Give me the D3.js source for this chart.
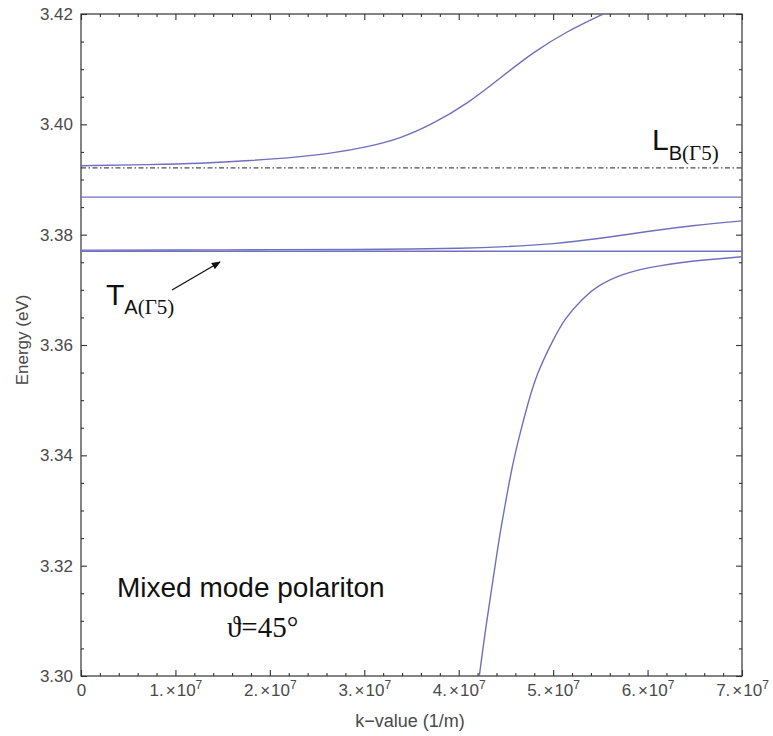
<!DOCTYPE html>
<html>
<head>
<meta charset="utf-8">
<script src="https://cdn.jsdelivr.net/npm/d3@7"></script>
<style>
body { margin: 0; background: #fff; }
</style>
</head>
<body>
<svg width="773" height="736" font-family="Liberation Sans, Arial, sans-serif"></svg>
<script>
// values: k in 1/m, energy in eV

// upper polariton branch
var upperK = [0, 0.73e7, 1.26e7, 1.79e7, 2.32e7, 2.67e7, 3.03e7, 3.38e7, 3.73e7, 4.09e7, 4.44e7, 4.79e7, 5.15e7, 5.53e7];
var upperE = [3.3925, 3.3927, 3.3929, 3.3934, 3.3941, 3.3948, 3.3959, 3.3974, 3.4001, 3.4037, 3.4084, 3.4131, 3.4169, 3.4200];

// middle branch, leaves T_A and bends up
var middleK = [0, 1e7, 2e7, 3e7, 3.5e7, 4e7, 4.5e7, 5e7, 5.5e7, 6e7, 6.5e7, 7e7];
var middleE = [3.3772, 3.3772, 3.3773, 3.3773, 3.3774, 3.3775, 3.3778, 3.3783, 3.3793, 3.3806, 3.3817, 3.3825];

// lower branch, comes up from the bottom
var lowerK = [4.218e7, 4.278e7, 4.331e7, 4.384e7, 4.437e7, 4.501e7, 4.564e7, 4.649e7, 4.734e7, 4.829e7, 4.998e7, 5.125e7, 5.316e7, 5.464e7, 5.740e7, 6.100e7, 6.629e7, 7.000e7];
var lowerE = [3.3000, 3.3078, 3.3138, 3.3198, 3.3259, 3.3319, 3.3379, 3.3440, 3.3495, 3.3549, 3.3609, 3.3649, 3.3685, 3.3707, 3.3730, 3.3744, 3.3755, 3.3760];

// flat levels
var flatLevels = [3.3868, 3.3770];
var lbLevel = 3.3921;

// axes
var kDomain = [0, 7e7];
var eDomain = [3.30, 3.42];
var kTicks = [0, 1e7, 2e7, 3e7, 4e7, 5e7, 6e7, 7e7];
var eTicks = [3.30, 3.32, 3.34, 3.36, 3.38, 3.40, 3.42];

var svg = d3.select("svg");
var mLeft = 81, mRight = 742, mTop = 14, mBottom = 676;

var x = d3.scaleLinear().domain(kDomain).range([mLeft, mRight]);
var y = d3.scaleLinear().domain(eDomain).range([mBottom, mTop]);

var kMinor = d3.range(0, 36).map(function(i) { return i * 0.2e7; }).filter(function(d, i) { return i % 5 !== 0; });
var eMinor = d3.range(0, 25).map(function(i) { return 3.30 + i * 0.005; }).filter(function(d, i) { return i % 4 !== 0; });

svg.append("clipPath").attr("id", "plot")
    .append("rect").attr("x", mLeft).attr("y", mTop).attr("width", mRight - mLeft).attr("height", mBottom - mTop);

function styleAxis(g) {
    g.select(".domain").remove();
    g.selectAll("line").attr("stroke", "#333").attr("stroke-width", 1.1);
    g.selectAll("text").attr("fill", "#4a4a4a").attr("font-size", 17).attr("font-family", "Liberation Sans, Arial, sans-serif");
    return g;
}

// bottom
var gx = svg.append("g").attr("transform", "translate(0," + mBottom + ")")
    .call(d3.axisBottom(x).tickValues(kTicks).tickSizeInner(-6).tickSizeOuter(0).tickPadding(8));
styleAxis(gx);
gx.selectAll(".tick text").each(function(d) {
    var t = d3.select(this).text("");
    if (d === 0) { t.text("0"); return; }
    t.append("tspan").text((d / 1e7) + ".");
    t.append("tspan").attr("dx", 2).text("\u00d7");
    t.append("tspan").attr("dx", 1).text("10");
    t.append("tspan").attr("dy", -7).attr("font-size", 12).text("7");
});
styleAxis(svg.append("g").attr("transform", "translate(0," + mBottom + ")")
    .call(d3.axisBottom(x).tickValues(kMinor).tickSizeInner(-3).tickSizeOuter(0).tickFormat("")));

// top
styleAxis(svg.append("g").attr("transform", "translate(0," + mTop + ")")
    .call(d3.axisTop(x).tickValues(kTicks).tickSizeInner(-6).tickSizeOuter(0).tickFormat("")));
styleAxis(svg.append("g").attr("transform", "translate(0," + mTop + ")")
    .call(d3.axisTop(x).tickValues(kMinor).tickSizeInner(-3).tickSizeOuter(0).tickFormat("")));

// left
styleAxis(svg.append("g").attr("transform", "translate(" + mLeft + ",0)")
    .call(d3.axisLeft(y).tickValues(eTicks).tickSizeInner(-6).tickSizeOuter(0).tickPadding(8).tickFormat(d3.format(".2f"))));
styleAxis(svg.append("g").attr("transform", "translate(" + mLeft + ",0)")
    .call(d3.axisLeft(y).tickValues(eMinor).tickSizeInner(-3).tickSizeOuter(0).tickFormat("")));

// right
styleAxis(svg.append("g").attr("transform", "translate(" + mRight + ",0)")
    .call(d3.axisRight(y).tickValues(eTicks).tickSizeInner(-6).tickSizeOuter(0).tickFormat("")));
styleAxis(svg.append("g").attr("transform", "translate(" + mRight + ",0)")
    .call(d3.axisRight(y).tickValues(eMinor).tickSizeInner(-3).tickSizeOuter(0).tickFormat("")));

// frame
svg.append("rect")
    .attr("x", mLeft).attr("y", mTop).attr("width", mRight - mLeft).attr("height", mBottom - mTop)
    .attr("fill", "none").attr("stroke", "#333").attr("stroke-width", 1.2);

// axis titles
svg.append("text")
    .attr("transform", "translate(28,340) rotate(-90)")
    .attr("text-anchor", "middle").attr("font-size", 17).attr("fill", "#4a4a4a")
    .text("Energy (eV)");
svg.append("text")
    .attr("x", 410).attr("y", 727)
    .attr("text-anchor", "middle").attr("font-size", 18).attr("fill", "#4a4a4a")
    .text("k\u2212value (1/m)");

// curves
var line = d3.line()
    .x(function(d) { return x(d[0]); })
    .y(function(d) { return y(d[1]); })
    .curve(d3.curveBasis);

var plot = svg.append("g").attr("clip-path", "url(#plot)");
var curveColor = "#6f6fbf";

flatLevels.forEach(function(e) {
    plot.append("path").datum([[kDomain[0], e], [kDomain[1], e]])
        .attr("d", line).attr("fill", "none").attr("stroke", curveColor).attr("stroke-width", 1.4);
});

plot.append("path").datum([[kDomain[0], lbLevel], [kDomain[1], lbLevel]])
    .attr("d", line).attr("fill", "none").attr("stroke", "#222").attr("stroke-width", 1)
    .attr("stroke-dasharray", "5,2.5,1.5,2.5");

[[upperK, upperE], [middleK, middleE], [lowerK, lowerE]].forEach(function(s) {
    plot.append("path").datum(d3.zip(s[0], s[1]))
        .attr("d", line).attr("fill", "none").attr("stroke", curveColor).attr("stroke-width", 1.4);
});

// annotations
var serif = "Liberation Serif, DejaVu Serif, Times New Roman, serif";
var lb = svg.append("text").attr("x", 652).attr("y", 150).attr("fill", "#111");
lb.append("tspan").attr("font-size", 30).text("L");
lb.append("tspan").attr("font-size", 20).attr("dy", 10).text("B");
lb.append("tspan").attr("font-size", 21).attr("font-family", serif).text("(\u03935)");

var ta = svg.append("text").attr("x", 106).attr("y", 305).attr("fill", "#111");
ta.append("tspan").attr("font-size", 30).text("T");
ta.append("tspan").attr("font-size", 20).attr("dy", 9).text("A");
ta.append("tspan").attr("font-size", 21).attr("font-family", serif).text("(\u03935)");

svg.append("defs").append("marker")
    .attr("id", "arrow").attr("viewBox", "0 0 10 10").attr("refX", 9).attr("refY", 5)
    .attr("markerWidth", 9).attr("markerHeight", 9).attr("markerUnits", "userSpaceOnUse")
    .attr("orient", "auto")
    .append("path").attr("d", "M0,1 L10,5 L0,9 Z").attr("fill", "#111");
svg.append("line")
    .attr("x1", 172).attr("y1", 290).attr("x2", 220).attr("y2", 262)
    .attr("stroke", "#111").attr("stroke-width", 1.3).attr("marker-end", "url(#arrow)");

svg.append("text").attr("x", 117).attr("y", 597)
    .attr("font-size", 28).attr("fill", "#111")
    .text("Mixed mode polariton");
svg.append("text").attr("x", 227).attr("y", 637)
    .attr("font-size", 29).attr("fill", "#111")
    .attr("font-family", serif)
    .text("\u03d1=45\u00b0");
</script>
</body>
</html>
